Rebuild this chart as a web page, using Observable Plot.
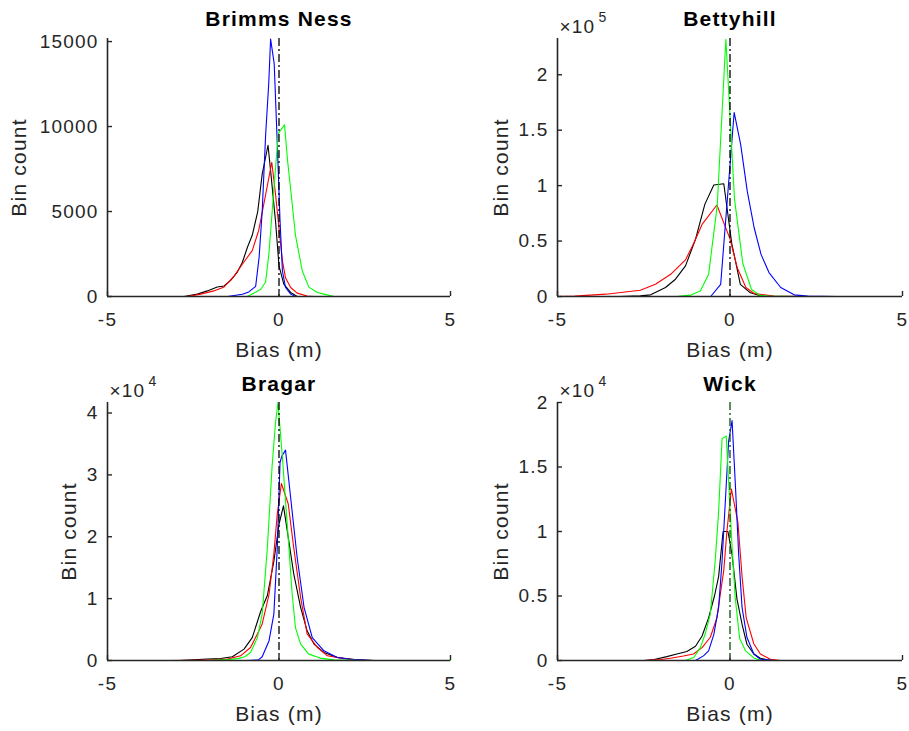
<!DOCTYPE html>
<html><head><meta charset="utf-8">
<script src="https://cdn.jsdelivr.net/npm/d3@7"></script>
<script src="https://cdn.jsdelivr.net/npm/@observablehq/plot@0.6"></script>
<style>
body{margin:0;background:#fff;}
#fig{position:relative;width:909px;height:731px;background:#fff;overflow:hidden;}
.panel{position:absolute;}
</style></head><body><div id="fig"></div>
<script>
// ---------- data ----------
const xTicks = [-5, 0, 5];
const seriesColors = ["#000000", "#ff0000", "#0000ff", "#00ff00"]; // black, red, blue, green
const titles = ["Brimms Ness", "Bettyhill", "Bragar", "Wick"];
const xLabel = "Bias (m)";
const yLabel = "Bin count";

// [bias (m), bin count]
const brimmsBlack = [[-2.77,0],[-2.38,140],[-2.09,330],[-1.8,560],[-1.6,620],[-1.41,950],[-1.21,1450],[-1.07,2000],[-0.92,2900],[-0.78,3600],[-0.62,5000],[-0.49,7200],[-0.32,8900],[-0.24,7300],[-0.1,4400],[0,1800],[0.14,730],[0.34,240],[0.53,0]];
const brimmsRed = [[-2.67,0],[-2.28,140],[-1.9,330],[-1.6,560],[-1.31,1200],[-1.07,1900],[-0.78,2700],[-0.59,3900],[-0.39,6000],[-0.21,7900],[-0.1,6000],[0,4000],[0.1,2100],[0.19,1100],[0.34,530],[0.53,200],[0.82,30],[1.0,0]];
const brimmsBlue = [[-1.5,0],[-1.07,130],[-0.88,270],[-0.68,600],[-0.58,2300],[-0.49,5000],[-0.39,9500],[-0.3,12500],[-0.245,15150],[-0.14,13700],[-0.05,9000],[0.03,4450],[0.1,1500],[0.19,530],[0.34,140],[0.48,0]];
const brimmsGreen = [[-0.92,0],[-0.73,200],[-0.53,430],[-0.39,850],[-0.29,2600],[-0.15,6300],[-0.02,9600],[0.16,10100],[0.25,8000],[0.34,6300],[0.48,3600],[0.68,1500],[0.87,550],[1.12,240],[1.31,140],[1.6,0]];

const bettyBlack = [[-3.23,0],[-2.6,600],[-2.3,1500],[-1.87,8100],[-1.58,15600],[-1.29,27600],[-1.0,51600],[-0.73,83100],[-0.47,100500],[-0.18,101700],[0.05,48000],[0.3,11000],[0.59,3300],[0.88,600],[1.2,0]];
const bettyRed = [[-5,0],[-4.5,300],[-3.6,2100],[-2.6,5700],[-2.16,11000],[-1.72,20000],[-1.29,33000],[-1.05,48000],[-0.81,65000],[-0.38,82500],[0,52000],[0.21,26000],[0.46,8100],[0.7,2700],[1.28,500],[1.86,100],[2.5,0]];
const bettyBlue = [[-0.56,0],[-0.27,11000],[0.12,166000],[0.31,137000],[0.5,95000],[0.7,62000],[0.9,38000],[1.13,21600],[1.47,8100],[1.86,1500],[2.25,300],[3.1,0]];
const bettyGreen = [[-2.85,0],[-1.5,200],[-1.15,1200],[-0.86,5000],[-0.62,20000],[-0.37,82000],[-0.12,232000],[0.13,88000],[0.37,30000],[0.62,6500],[0.86,1000],[1.1,300],[1.9,0]];

const bragarBlack = [[-2.9,0],[-2.5,100],[-2.09,250],[-1.7,320],[-1.36,600],[-1.02,1840],[-0.78,3700],[-0.53,8000],[-0.34,10500],[-0.15,16000],[0,22000],[0.13,25000],[0.24,21000],[0.43,14000],[0.63,8600],[0.82,4800],[1.02,2650],[1.31,1300],[1.7,480],[2.2,150],[2.8,0]];
const bragarRed = [[-3.25,0],[-2.5,50],[-2.0,100],[-1.5,220],[-1.12,760],[-0.83,2100],[-0.63,4300],[-0.49,5900],[-0.29,10700],[-0.15,17200],[-0.05,23700],[0.07,28600],[0.27,25300],[0.43,18200],[0.63,10200],[0.82,4300],[1.12,2100],[1.41,760],[1.9,300],[2.5,0]];
const bragarBlue = [[-0.92,0],[-0.6,100],[-0.49,600],[-0.29,3200],[-0.15,7500],[-0.05,18200],[0.03,32000],[0.08,33000],[0.19,34000],[0.34,26300],[0.53,16600],[0.73,8600],[0.97,3700],[1.31,1560],[1.7,480],[2.1,200],[2.7,0]];
const bragarGreen = [[-3.0,0],[-2.0,50],[-1.5,150],[-1.2,300],[-1.0,600],[-0.83,1300],[-0.63,3700],[-0.49,7500],[-0.34,18200],[-0.2,31500],[-0.1,38500],[-0.03,41700],[0.1,32800],[0.2,25000],[0.29,18200],[0.38,11000],[0.48,5300],[0.63,2650],[0.87,1030],[1.2,390],[1.6,100],[2.5,0],[5,0]];

const wickBlack = [[-2.5,0],[-2.2,80],[-1.83,300],[-1.54,500],[-1.25,700],[-1.0,1100],[-0.81,1900],[-0.62,3300],[-0.45,5000],[-0.33,6500],[-0.2,10000],[-0.06,10000],[0.06,8200],[0.2,4800],[0.35,2800],[0.49,1260],[0.69,500],[0.88,180],[1.07,50],[1.3,0]];
const wickRed = [[-2.46,0],[-2.0,80],[-1.73,180],[-1.35,350],[-1.06,500],[-0.81,1000],[-0.57,1800],[-0.38,3300],[-0.18,7000],[-0.09,10000],[0.04,13300],[0.23,10700],[0.35,6500],[0.47,3300],[0.69,1300],[0.88,500],[1.17,100],[1.46,0]];
const wickBlue = [[-1.0,0],[-0.77,360],[-0.62,750],[-0.47,2000],[-0.33,4100],[-0.23,7700],[-0.14,12100],[-0.04,17000],[0.06,18600],[0.16,13400],[0.25,8300],[0.35,4100],[0.49,1800],[0.69,500],[0.88,100],[1.27,0]];
const wickGreen = [[-1.3,0],[-1.05,230],[-0.86,1000],[-0.72,2050],[-0.57,3600],[-0.43,7700],[-0.33,11500],[-0.23,17200],[-0.11,17400],[-0.04,13900],[0.06,8800],[0.15,4900],[0.28,1700],[0.45,750],[0.69,200],[0.9,0]];

const yTicksBrimms = [0, 5000, 10000, 15000];
const yTicksBetty = [0, 50000, 100000, 150000, 200000];
const yTicksBragar = [0, 10000, 20000, 30000, 40000];
const yTicksWick = [0, 5000, 10000, 15000, 20000];
const yMaxes = [15180, 232700, 41700, 20000];
const exponents = [null, "5", "4", "4"];

// ---------- layout ----------
const AX = "#262626";
const FONT = "'Liberation Sans', Arial, Helvetica, sans-serif";
const panels = [
  {title: titles[0], series: [brimmsBlack, brimmsRed, brimmsBlue, brimmsGreen], yTicks: yTicksBrimms, yMax: yMaxes[0], exp: exponents[0], fmt: d => String(d),
   left: 0, top: 0, width: 455, height: 365, ml: 107, mr: 5, mt: 38, mb: 69, ylabDx: -88, refColor: "#000", titleDy: -19},
  {title: titles[1], series: [bettyBlack, bettyRed, bettyBlue, bettyGreen], yTicks: yTicksBetty, yMax: yMaxes[1], exp: exponents[1], fmt: d => String(d / 1e5),
   left: 455, top: 0, width: 454, height: 365, ml: 102, mr: 7, mt: 38, mb: 69, ylabDx: -56, refColor: "#000", titleDy: -19},
  {title: titles[2], series: [bragarBlack, bragarRed, bragarBlue, bragarGreen], yTicks: yTicksBragar, yMax: yMaxes[2], exp: exponents[2], fmt: d => String(d / 1e4),
   left: 0, top: 365, width: 455, height: 366, ml: 107, mr: 5, mt: 37, mb: 71, ylabDx: -38, refColor: "#000", titleDy: -18},
  {title: titles[3], series: [wickBlack, wickRed, wickBlue, wickGreen], yTicks: yTicksWick, yMax: yMaxes[3], exp: exponents[3], fmt: d => String(d / 1e4),
   left: 455, top: 365, width: 454, height: 366, ml: 102, mr: 7, mt: 37, mb: 71, ylabDx: -56, refColor: "#0b4a0b", titleDy: -18}
];

const fig = document.getElementById("fig");
for (const p of panels) {
  const frameW = p.width - p.ml - p.mr;
  const frameH = p.height - p.mt - p.mb;
  const marks = [];
  p.series.forEach((s, i) => {
    marks.push(Plot.line(s, {x: d => d[0], y: d => d[1], stroke: seriesColors[i], strokeWidth: 1.1}));
  });
  marks.push(Plot.ruleX([0], {stroke: p.refColor, strokeWidth: 1.3, strokeDasharray: "8,3,2,3"}));
  marks.push(Plot.ruleY([0], {stroke: AX, strokeWidth: 1.6}));
  marks.push(Plot.ruleX([-5], {stroke: AX, strokeWidth: 1.6}));
  marks.push(Plot.tickX(xTicks, {x: d => d, insetTop: frameH - 5, stroke: AX, strokeWidth: 1.4}));
  marks.push(Plot.tickY(p.yTicks, {y: d => d, insetRight: frameW - 5, stroke: AX, strokeWidth: 1.4}));
  marks.push(Plot.axisX({ticks: xTicks, tickSize: 0, tickPadding: 16, tickFormat: d => String(d), label: null, fontSize: 19, fill: AX}));
  marks.push(Plot.axisY({ticks: p.yTicks, tickSize: 0, tickPadding: 9, tickFormat: p.fmt, label: null, fontSize: 19, fill: AX}));
  marks.push(Plot.text([p.title], {frameAnchor: "top", dy: p.titleDy, lineAnchor: "middle", textAnchor: "middle", fontWeight: "bold", fill: "#000", fontSize: 21}));
  marks.push(Plot.text([xLabel], {frameAnchor: "bottom", dy: 54, lineAnchor: "middle", textAnchor: "middle", fill: AX, fontSize: 21}));
  marks.push(Plot.text([yLabel], {frameAnchor: "left", dx: p.ylabDx, rotate: -90, lineAnchor: "middle", textAnchor: "middle", fill: AX, fontSize: 21}));
  if (p.exp) {
    marks.push(Plot.text(["×10"], {frameAnchor: "top-left", dx: 2, dy: -12, lineAnchor: "middle", textAnchor: "start", fill: AX, fontSize: 19}));
    marks.push(Plot.text([p.exp], {frameAnchor: "top-left", dx: 41, dy: -21, lineAnchor: "middle", textAnchor: "start", fill: AX, fontSize: 14}));
  }
  const chart = Plot.plot({
    width: p.width, height: p.height,
    marginLeft: p.ml, marginRight: p.mr, marginTop: p.mt, marginBottom: p.mb,
    x: {domain: [-5, 5]},
    y: {domain: [0, p.yMax]},
    style: {fontFamily: FONT, fontSize: "19px", color: AX, background: "transparent", overflow: "visible", letterSpacing: "1.2px"},
    marks
  });
  const div = document.createElement("div");
  div.className = "panel";
  div.style.left = p.left + "px";
  div.style.top = p.top + "px";
  div.appendChild(chart);
  fig.appendChild(div);
}
</script></body></html>
